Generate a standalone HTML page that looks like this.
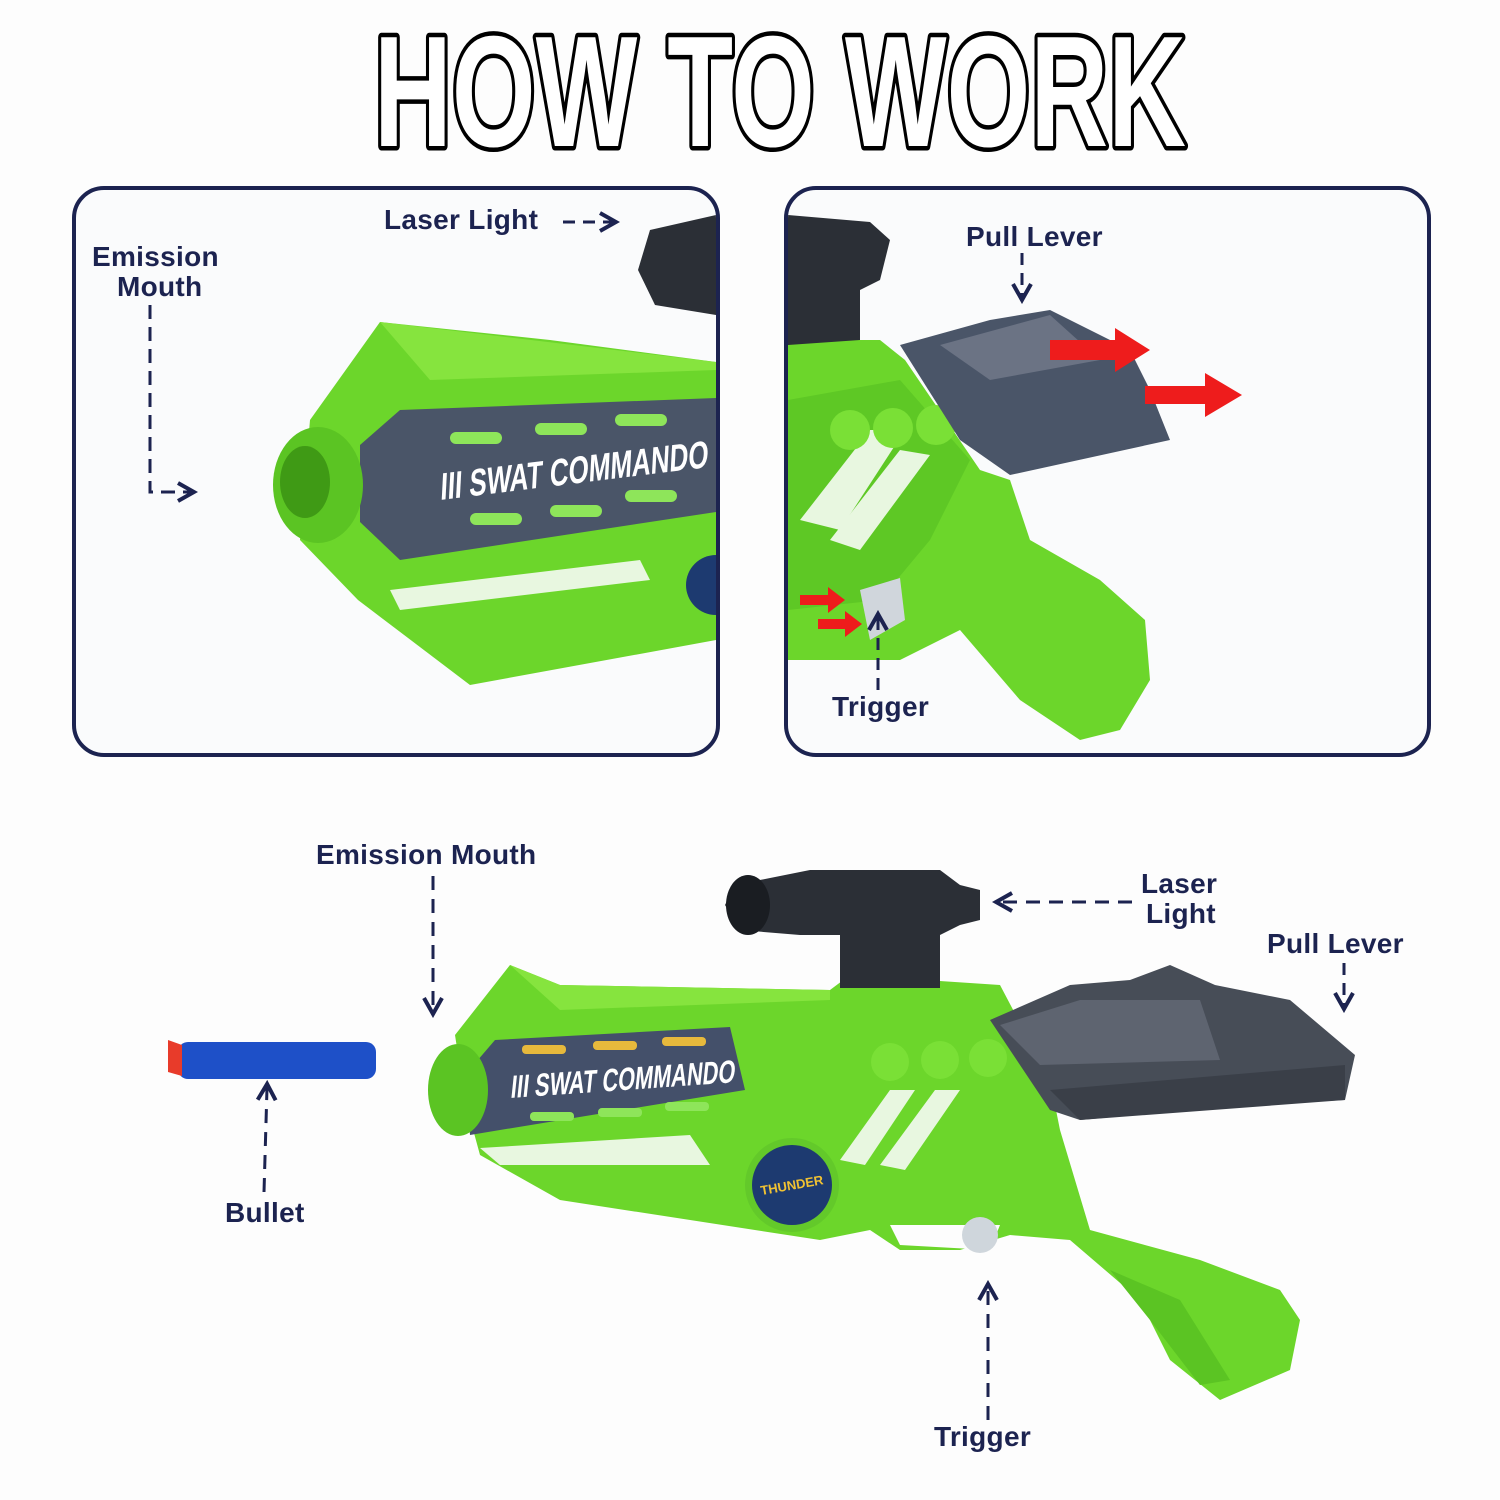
<!DOCTYPE html>
<html><head><meta charset="utf-8"><style>
html,body{margin:0;padding:0;background:#fff;width:1500px;height:1500px;overflow:hidden}
svg{display:block}
.lbl{font-family:"Liberation Sans",sans-serif;font-size:28px;fill:#1c2350;font-weight:bold;letter-spacing:0.3px}
</style></head><body>
<svg width="1500" height="1500" viewBox="0 0 1500 1500" xmlns="http://www.w3.org/2000/svg">
<defs>
<marker id="arb" markerWidth="22" markerHeight="22" refX="14" refY="11" orient="auto" markerUnits="userSpaceOnUse" viewBox="0 0 22 22">
<path d="M2,2 L18,11 L2,20" fill="none" stroke="#1c2350" stroke-width="4"/></marker>
</defs>
<rect width="1500" height="1500" fill="#fdfdfd"/>
<!-- title -->
<text x="374" y="146" textLength="812" lengthAdjust="spacingAndGlyphs" font-family="Liberation Sans,sans-serif" font-weight="bold" font-size="158" fill="#fff" stroke="#000" stroke-width="9" paint-order="stroke" stroke-linejoin="round">HOW TO WORK</text>

<!-- panel 1 -->
<rect x="74" y="188" width="644" height="567" rx="30" fill="#fafbfc" stroke="#1c2350" stroke-width="4"/>
<clipPath id="c1"><rect x="76" y="190" width="640" height="563" rx="28"/></clipPath>
<g clip-path="url(#c1)">
<polygon points="310,420 380,322 550,340 716,362 716,640 470,685 358,600 300,540" fill="#6cd62b"/>
<polygon points="380,322 430,380 716,370 716,362" fill="#86e43e"/>
<polygon points="360,445 400,410 716,398 716,512 400,560 360,522" fill="#4a5568"/>
<text x="0" y="0" transform="translate(440,500) rotate(-7) skewX(-10)" font-family="Liberation Sans,sans-serif" font-weight="bold" font-size="38" fill="#fff" textLength="270" lengthAdjust="spacingAndGlyphs">III SWAT COMMANDO</text>
<g fill="#8ee55a"><rect x="450" y="432" width="52" height="12" rx="6"/><rect x="535" y="423" width="52" height="12" rx="6"/><rect x="615" y="414" width="52" height="12" rx="6"/>
<rect x="470" y="513" width="52" height="12" rx="6"/><rect x="550" y="505" width="52" height="12" rx="6"/><rect x="625" y="490" width="52" height="12" rx="6"/></g>
<polygon points="390,590 640,560 650,580 400,610" fill="#e8f7e0"/>
<ellipse cx="318" cy="485" rx="45" ry="58" fill="#5bc423"/>
<ellipse cx="305" cy="482" rx="25" ry="36" fill="#3f9a15"/>
<polygon points="650,230 716,215 716,315 655,305 638,270" fill="#2b2f36"/>
<circle cx="716" cy="585" r="30" fill="#1d3a70"/>
</g>
<text class="lbl" x="384" y="229">Laser Light</text>
<line x1="563" y1="222" x2="612" y2="222" stroke="#1c2350" stroke-width="3" stroke-dasharray="12,8" marker-end="url(#arb)"/>
<text class="lbl" x="92" y="266">Emission</text>
<text class="lbl" x="117" y="296">Mouth</text>
<polyline points="150,305 150,492 190,492" fill="none" stroke="#1c2350" stroke-width="3" stroke-dasharray="14,8" marker-end="url(#arb)"/>

<!-- panel 2 -->
<rect x="786" y="188" width="643" height="567" rx="30" fill="#fafbfc" stroke="#1c2350" stroke-width="4"/>
<clipPath id="c2"><rect x="788" y="190" width="639" height="563" rx="28"/></clipPath>
<g clip-path="url(#c2)">
<polygon points="788,340 880,340 905,360 980,470 1010,480 1030,540 1100,580 1145,620 1150,680 1120,730 1080,740 1020,700 960,630 900,660 788,660" fill="#6cd62b"/>
<polygon points="788,400 900,380 970,460 930,540 880,600 788,610" fill="#5ec825"/>
<polygon points="800,520 870,430 905,430 840,530" fill="#e8f7e0"/>
<polygon points="830,540 900,450 930,455 860,550" fill="#e8f7e0"/>
<circle cx="850" cy="430" r="20" fill="#7ae036"/><circle cx="893" cy="428" r="20" fill="#7ae036"/><circle cx="936" cy="425" r="20" fill="#7ae036"/>
<polygon points="900,345 990,320 1050,310 1130,350 1150,390 1170,440 1010,475 960,440" fill="#4a5568"/>
<polygon points="940,345 1050,315 1100,360 990,380" fill="#6b7384"/>
<polygon points="788,215 870,222 890,240 880,280 860,290 860,340 788,345" fill="#2b2f36"/>
<polygon points="860,590 900,578 905,620 870,640" fill="#d0d6dc"/>
</g>
<g fill="#ee1c1c">
<polygon points="1050,340 1115,340 1115,328 1150,350 1115,372 1115,360 1050,360"/>
<polygon points="1145,386 1205,386 1205,373 1242,395 1205,417 1205,404 1145,404"/>
<polygon points="800,595 828,595 828,587 845,600 828,613 828,605 800,605"/>
<polygon points="818,619 845,619 845,611 862,624 845,637 845,629 818,629"/>
</g>
<text class="lbl" x="966" y="246">Pull Lever</text>
<line x1="1022" y1="253" x2="1022" y2="296" stroke="#1c2350" stroke-width="3" stroke-dasharray="12,8" marker-end="url(#arb)"/>
<text class="lbl" x="832" y="716">Trigger</text>
<line x1="878" y1="690" x2="878" y2="618" stroke="#1c2350" stroke-width="3" stroke-dasharray="12,8" marker-end="url(#arb)"/>

<!-- bottom gun -->
<polygon points="455,1035 510,965 560,985 830,990 850,975 1000,985 1050,1080 1060,1130 1090,1230 1200,1260 1280,1290 1300,1320 1290,1370 1220,1400 1170,1360 1140,1300 1070,1240 1010,1235 960,1250 900,1250 870,1230 820,1240 560,1200 480,1155 465,1100" fill="#6cd62b"/>
<polygon points="890,1225 900,1245 990,1250 1000,1225" fill="#fdfdfd"/>
<polygon points="510,965 560,1010 830,1000 830,990 560,985" fill="#86e43e"/>
<polygon points="465,1075 495,1040 730,1027 745,1090 500,1130 470,1135" fill="#44506a"/>
<text x="0" y="0" transform="translate(510,1098) rotate(-4) skewX(-10)" font-family="Liberation Sans,sans-serif" font-weight="bold" font-size="32" fill="#fff" textLength="225" lengthAdjust="spacingAndGlyphs">III SWAT COMMANDO</text>
<g fill="#e7b93c"><rect x="522" y="1045" width="44" height="9" rx="4"/><rect x="593" y="1041" width="44" height="9" rx="4"/><rect x="662" y="1037" width="44" height="9" rx="4"/></g>
<g fill="#8ee55a"><rect x="530" y="1112" width="44" height="9" rx="4"/><rect x="598" y="1108" width="44" height="9" rx="4"/><rect x="665" y="1102" width="44" height="9" rx="4"/></g>
<polygon points="480,1148 690,1135 710,1165 500,1165" fill="#e8f7e0"/>
<polygon points="840,1160 890,1090 915,1090 865,1165" fill="#e8f7e0"/>
<polygon points="880,1165 935,1090 960,1090 905,1170" fill="#e8f7e0"/>
<circle cx="890" cy="1062" r="19" fill="#7ae036"/><circle cx="940" cy="1060" r="19" fill="#7ae036"/><circle cx="988" cy="1058" r="19" fill="#7ae036"/>
<polygon points="1110,1270 1180,1300 1230,1380 1200,1385 1150,1320" fill="#5bc423"/>
<ellipse cx="458" cy="1090" rx="30" ry="46" fill="#5bc423"/>
<circle cx="792" cy="1185" r="47" fill="#63c92a"/><circle cx="792" cy="1185" r="40" fill="#1d3a70"/>
<text x="760" y="1190" font-family="Liberation Sans,sans-serif" font-size="13" font-weight="bold" fill="#f1c232" transform="rotate(-10 790 1185)">THUNDER</text>
<polygon points="990,1020 1070,985 1130,980 1170,965 1215,985 1290,1000 1355,1055 1345,1100 1250,1105 1080,1120 1050,1110" fill="#474d57"/>
<polygon points="1000,1025 1080,1000 1200,1000 1220,1060 1040,1065" fill="#5e6470"/>
<polygon points="1050,1090 1345,1065 1345,1100 1080,1120" fill="#3a3f48"/>
<circle cx="980" cy="1235" r="18" fill="#cfd6dc"/>
<rect x="840" y="930" width="100" height="58" fill="#2b2f36"/>
<polygon points="735,885 810,870 940,870 960,885 980,890 980,920 960,925 940,935 800,935 740,930 725,905" fill="#2b2f36"/>
<ellipse cx="748" cy="905" rx="22" ry="30" fill="#1a1d22"/>
<rect x="178" y="1042" width="198" height="37" rx="10" fill="#1e50c8"/>
<polygon points="182,1045 168,1040 168,1072 182,1076" fill="#e83b2a"/>
<text class="lbl" x="316" y="864">Emission Mouth</text>
<line x1="433" y1="876" x2="433" y2="1010" stroke="#1c2350" stroke-width="3" stroke-dasharray="14,9" marker-end="url(#arb)"/>
<text class="lbl" x="1141" y="893">Laser</text>
<text class="lbl" x="1146" y="923">Light</text>
<line x1="1132" y1="902" x2="1000" y2="902" stroke="#1c2350" stroke-width="3" stroke-dasharray="14,9" marker-end="url(#arb)"/>
<text class="lbl" x="1267" y="953">Pull Lever</text>
<line x1="1344" y1="963" x2="1344" y2="1005" stroke="#1c2350" stroke-width="3" stroke-dasharray="12,8" marker-end="url(#arb)"/>
<text class="lbl" x="225" y="1222">Bullet</text>
<line x1="264" y1="1192" x2="267" y2="1088" stroke="#1c2350" stroke-width="3" stroke-dasharray="14,9" marker-end="url(#arb)"/>
<text class="lbl" x="934" y="1446">Trigger</text>
<line x1="988" y1="1420" x2="988" y2="1288" stroke="#1c2350" stroke-width="3" stroke-dasharray="14,9" marker-end="url(#arb)"/>
</svg>
</body></html>
